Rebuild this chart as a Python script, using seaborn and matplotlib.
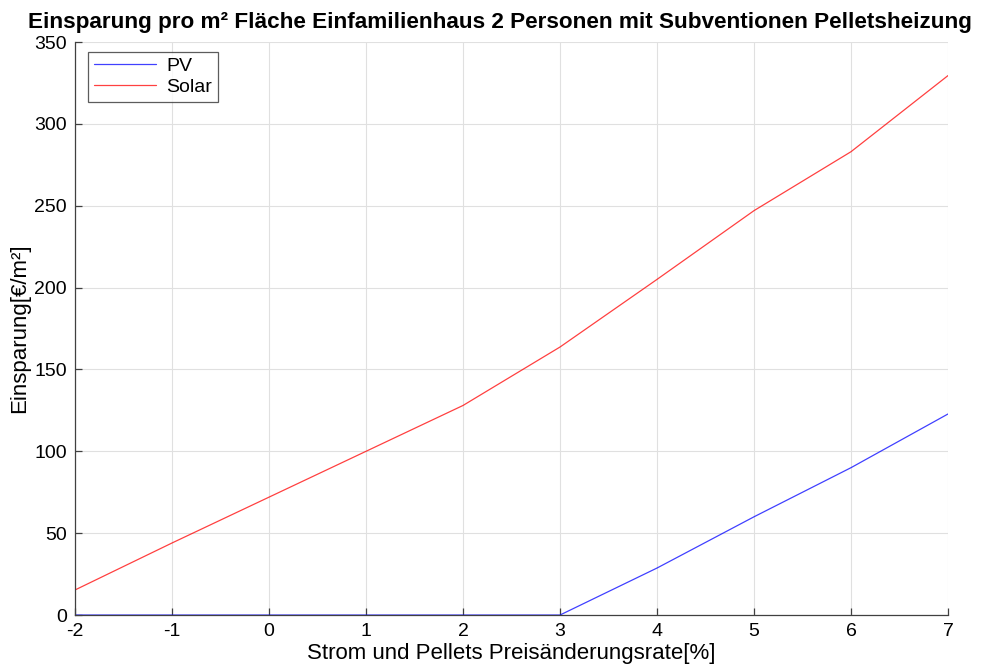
import matplotlib
matplotlib.use("Agg")
import matplotlib.pyplot as plt
import seaborn as sns
import pandas as pd

rate = [-2, -1, 0, 1, 2, 3, 4, 5, 6, 7]
pv = [0, 0, 0, 0, 0, 0, 28.7, 60, 90, 122.8]
solar = [15.3, 44, 72, 100, 128, 163.7, 205, 247, 283, 329.5]

df = pd.concat([
    pd.DataFrame({"rate": rate, "value": pv, "series": "PV"}),
    pd.DataFrame({"rate": rate, "value": solar, "series": "Solar"}),
])

sns.set_style("white")
plt.rcParams["font.family"] = ["Liberation Sans", "DejaVu Sans"]
plt.rcParams["axes.unicode_minus"] = False
plt.rcParams["text.color"] = "black"
plt.rcParams["axes.labelcolor"] = "black"

fig = plt.figure(figsize=(9.83, 6.68), dpi=100)
ax = fig.add_axes([0.0763, 0.0793, 0.8881, 0.8578])

sns.lineplot(data=df, x="rate", y="value", hue="series",
             palette={"PV": "#0000ff", "Solar": "#ff0000"},
             linewidth=0.9, alpha=0.75, ax=ax, legend=True)

ax.set_xlim(-2, 7)
ax.set_ylim(0, 350)
ax.set_xticks(range(-2, 8))
ax.set_yticks(range(0, 351, 50))
ax.grid(True, color="#e0e0e0", linewidth=0.8)
for side in ("top", "right"):
    ax.spines[side].set_visible(False)
for side in ("left", "bottom"):
    ax.spines[side].set_color("#404040")
    ax.spines[side].set_linewidth(0.9)
ax.tick_params(direction="in", length=5, width=0.9, color="#404040",
               labelsize=14, pad=6, labelcolor="black",
               bottom=True, left=True)

ax.set_xlabel("Strom und Pellets Preisänderungsrate[%]", fontsize=16, labelpad=2)
ax.set_ylabel("Einsparung[€/m²]", fontsize=16, labelpad=3)
ax.set_title("Einsparung pro m² Fläche Einfamilienhaus 2 Personen mit Subventionen Pelletsheizung",
             fontsize=16.2, fontweight="bold", pad=10, x=0.487, color="black")

leg = ax.legend(loc="upper left", fontsize=14, frameon=True, fancybox=False,
                edgecolor="#333333", borderpad=0.3, handlelength=3.2,
                handletextpad=0.5, labelspacing=0.15, borderaxespad=0,
                bbox_to_anchor=(0.015, 0.983))
leg.get_frame().set_linewidth(0.9)
for line in leg.get_lines():
    line.set_alpha(0.75)

fig.savefig("out.png", dpi=100)
